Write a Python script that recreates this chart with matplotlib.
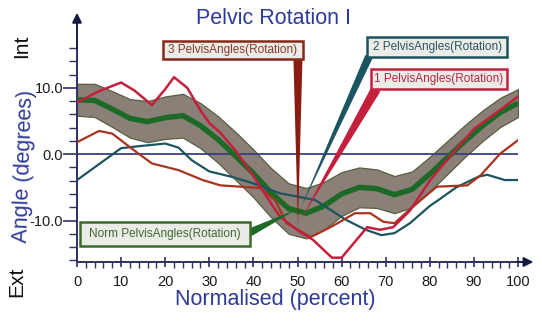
import numpy as np
import matplotlib
matplotlib.use("Agg")
import matplotlib.pyplot as plt
from matplotlib.patches import Polygon, Rectangle

plt.rcParams['font.family'] = ['Liberation Sans', 'DejaVu Sans']

# normative pelvic rotation: mean and half-width of the grey band
norm_x = [0, 4, 8, 12, 16, 20, 24, 28, 32, 36, 40, 44, 48, 52, 56, 60,
          64, 68, 72, 76, 80, 84, 88, 92, 96, 100]
norm_mean = [8.2, 8.1, 6.8, 5.4, 4.9, 5.5, 5.8, 4.3, 2.2, -0.3, -2.9, -5.8,
             -8.2, -8.9, -7.8, -6.0, -5.0, -5.2, -6.1, -5.3, -3.0, -0.5,
             2.0, 4.3, 6.3, 7.7]
norm_sd = [2.4, 2.5, 2.7, 2.9, 3.1, 3.2, 3.3, 3.4, 3.5, 3.6, 3.6, 3.7,
           3.8, 3.8, 3.6, 3.3, 3.0, 2.9, 2.8, 2.7, 2.6, 2.5, 2.4, 2.3,
           2.2, 2.1]

# trial 1
t1_x = [0, 5, 10, 13, 17, 20, 22, 25, 28, 30, 32.4, 36, 40, 42, 46, 50.5,
        53.5, 57.8, 60, 65.8, 68.7, 71.7, 75.5, 80, 85, 90, 95, 100]
t1_y = [7.8, 9.5, 10.8, 9.6, 7.4, 9.8, 11.6, 10.0, 6.6, 4.7, 3.3, 0.5,
        -3.3, -5.4, -9.4, -11.7, -12.9, -15.6, -15.6, -11.0, -11.4, -11.0,
        -8.5, -4.0, 0.0, 3.8, 6.2, 8.7]

# trial 2
t2_x = [0, 5, 10, 14, 20, 23, 26, 30, 35, 40, 46, 50, 54, 57.5, 61, 65.5,
        69, 72, 75.5, 80, 82, 86, 91, 93, 97, 100]
t2_y = [-3.9, -1.5, 0.9, 1.2, 1.6, 1.0, -0.9, -2.6, -3.4, -4.4, -5.9,
        -6.4, -6.9, -8.4, -9.9, -11.4, -12.2, -11.9, -10.4, -7.8, -6.9,
        -5.0, -3.4, -3.1, -3.9, -3.9]

# trial 3
t3_x = [0, 5, 8, 13.5, 17, 23, 28.5, 32.5, 41.5, 45, 47.5, 53, 57.5, 63,
        66.5, 69.5, 72, 76, 81.6, 88.5, 91.5, 96, 100]
t3_y = [1.8, 3.5, 3.1, 0.3, -1.4, -2.4, -3.9, -4.7, -5.1, -7.0, -10.4,
        -12.5, -11.0, -8.9, -8.9, -10.2, -10.4, -8.0, -4.9, -4.7, -3.2,
        0.1, 2.1]

x_major = np.arange(0, 101, 10)
x_minor = np.arange(0, 101, 2)
y_major = [-10, 0, 10]
y_minor = np.arange(-16, 17, 2)

NAVY = '#2e3066'
BLUE = '#2c3a99'
GREEN = '#1d6a27'
RED = '#c41f3c'
TEAL = '#1c5460'
RUST = '#a8331f'

fig = plt.figure(figsize=(5.42, 3.22), dpi=100)
ax = fig.add_axes([77 / 542, 60 / 322, 441 / 542, 214 / 322])
ax.set_xlim(0, 100)
ax.set_ylim(-16.25, 16)

# band, zero line, mean
nm = np.array(norm_mean)
sd = np.array(norm_sd)
ax.fill_between(norm_x, nm - sd, nm + sd, facecolor='#8a8078',
                edgecolor='#56603f', lw=0.9, zorder=1)
ax.plot([0, 100], [0, 0], color='#3a3f80', lw=1.3, zorder=2)
ax.plot(norm_x, norm_mean, color=GREEN, lw=3.9, zorder=3,
        solid_capstyle='butt')

ax.plot(t2_x, t2_y, color=TEAL, lw=1.6, zorder=4)
ax.plot(t3_x, t3_y, color=RUST, lw=1.6, zorder=4)
ax.plot(t1_x, t1_y, color=RED, lw=1.8, zorder=5)

# axes
for s in ['top', 'right']:
    ax.spines[s].set_visible(False)
for s in ['left', 'bottom']:
    ax.spines[s].set_color(NAVY)
    ax.spines[s].set_linewidth(1.4)
ax.set_xticks(x_major)
ax.set_xticks(x_minor, minor=True)
ax.set_yticks(y_major)
ax.set_yticklabels(['-10.0', '0.0', '10.0'])
ax.set_yticks(y_minor, minor=True)
ax.tick_params(axis='x', which='major', direction='inout', length=7,
               width=1.2, color=NAVY, labelsize=10.5, pad=6)
ax.tick_params(axis='x', which='minor', direction='out', length=4,
               width=1.0, color=NAVY)
ax.tick_params(axis='y', which='major', direction='out', length=10,
               width=1.2, color=NAVY, labelsize=10.5, pad=0)
ax.tick_params(axis='y', which='minor', direction='out', length=6,
               width=1.0, color=NAVY)
ax.tick_params(labelcolor='#1a1a1a')

ax.annotate('', xy=(0, 21.3), xytext=(0, 15.9), xycoords='data',
            arrowprops=dict(arrowstyle='-|>', color='#151a40', lw=1.4,
                            mutation_scale=14, shrinkA=0, shrinkB=0),
            annotation_clip=False)
ax.annotate('', xy=(103.5, -16.25), xytext=(99.9, -16.25), xycoords='data',
            arrowprops=dict(arrowstyle='-|>', color='#151a40', lw=1.4,
                            mutation_scale=14, shrinkA=0, shrinkB=0),
            annotation_clip=False)

fig.text(274 / 542, 1 - 19 / 322, 'Pelvic Rotation I', color=BLUE,
         fontsize=15.5, ha='center', va='center')
fig.text(275 / 542, 1 - 300 / 322, 'Normalised (percent)', color=BLUE,
         fontsize=15.5, ha='center', va='center')
fig.text(24 / 542, 1 - 166 / 322, 'Angle (degrees)', color=BLUE,
         fontsize=15.5, ha='center', va='center', rotation=88)
fig.text(22 / 542, 1 - 46 / 322, 'Int', color='#111111', fontsize=15,
         ha='center', va='center', rotation=90)
fig.text(17 / 542, 1 - 282 / 322, 'Ext', color='#111111', fontsize=15,
         ha='center', va='center', rotation=90)


def wedge(base, tip, width_px, color):
    p0 = ax.transData.transform(base)
    p1 = ax.transData.transform(tip)
    d = p1 - p0
    n = np.array([-d[1], d[0]]) / np.hypot(*d) * width_px / 2
    pts = ax.transData.inverted().transform([p0 + n, p0 - n, p1])
    ax.add_patch(Polygon(pts, closed=True, facecolor=color, edgecolor='none',
                         clip_on=False, zorder=6))


def label_box(x0, x1, y0, y1, text, edge, fg):
    ax.add_patch(Rectangle((x0, y0), x1 - x0, y1 - y0, facecolor='#ebebe8',
                           edgecolor=edge, lw=1.8, clip_on=False, zorder=7))
    ax.text((x0 + x1) / 2, (y0 + y1) / 2, text, color=fg, fontsize=8.5,
            ha='center', va='center', zorder=8, clip_on=False)


wedge((50.1, 14.3), (50.1, -11.0), 9, '#8a1c12')
wedge((66.2, 14.7), (50.6, -8.3), 8, TEAL)
wedge((67.8, 9.8), (50.8, -9.8), 10, RED)
wedge((39.2, -11.8), (49.9, -8.3), 8, GREEN)

label_box(19.5, 51.2, 14.3, 17.0, '3 PelvisAngles(Rotation)', '#86281a', '#8a3a2a')
label_box(65.8, 97.5, 14.7, 17.7, '2 PelvisAngles(Rotation)', TEAL, '#2a5560')
label_box(66.7, 97.5, 9.8, 12.8, '1 PelvisAngles(Rotation)', RED, '#b8283f')
label_box(0.7, 39.2, -13.8, -10.2, 'Norm PelvisAngles(Rotation)', '#3a6b2a', '#3d6b2f')

fig.savefig('out.png', dpi=100)
